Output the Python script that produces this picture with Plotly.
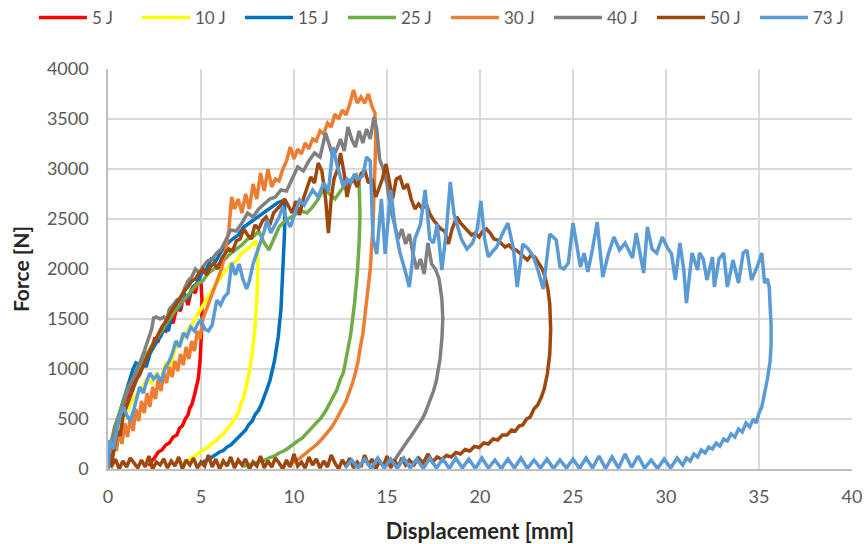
import plotly.graph_objects as go

# Force-displacement records of the impact tests, (displacement mm, force N)
curve_5J = [
    (0, 0), (0.1, 200), (0.3, 320), (0.5, 450), (0.7, 520), (0.9, 680), (1.1, 720), (1.3, 860),
    (1.5, 900), (1.7, 1020), (1.9, 1050), (2.1, 1160), (2.3, 1180), (2.5, 1300), (2.7, 1280),
    (2.9, 1400), (3.1, 1380), (3.3, 1500), (3.5, 1460), (3.7, 1620), (3.9, 1580), (4.1, 1760),
    (4.3, 1640), (4.5, 1800), (4.7, 1760), (4.85, 1920), (5.0, 1860), (5.05, 1700), (5.05, 1450),
    (5.0, 1250), (4.95, 1080), (4.85, 900), (4.75, 800), (4.65, 740), (4.5, 640), (4.4, 610),
    (4.3, 540), (4.15, 500), (4.0, 430), (3.85, 410), (3.7, 340), (3.5, 320), (3.3, 260),
    (3.1, 240), (2.9, 190), (2.7, 170), (2.5, 110), (2.35, 80), (2.2, 30),
]

curve_10J = [
    (0, 0), (0.15, 180), (0.35, 300), (0.6, 420), (0.85, 520), (1.1, 600), (1.35, 700), (1.6, 760),
    (1.85, 820), (2.1, 900), (2.35, 860), (2.6, 950), (2.85, 900), (3.1, 1050), (3.35, 1020),
    (3.6, 1200), (3.85, 1250), (4.1, 1320), (4.35, 1400), (4.6, 1480), (4.85, 1550), (5.1, 1640),
    (5.4, 1720), (5.7, 1820), (6.0, 1900), (6.3, 1980), (6.6, 2050), (6.9, 2080), (7.2, 2160),
    (7.5, 2200), (7.75, 2240), (7.95, 2280), (8.05, 2200), (8.05, 1950), (8.0, 1700), (7.9, 1420),
    (7.75, 1150), (7.55, 920), (7.3, 720), (7.15, 660), (7.0, 560), (6.8, 500), (6.6, 440),
    (6.4, 400), (6.2, 350), (6.0, 320), (5.8, 280), (5.6, 260), (5.4, 220), (5.2, 200), (5.0, 170),
    (4.8, 150), (4.6, 120), (4.4, 100), (4.25, 80), (4.05, 60), (3.9, 40),
]

curve_15J = [
    (0, 0), (0.15, 220), (0.35, 380), (0.55, 520), (0.75, 640), (0.95, 760), (1.15, 880),
    (1.35, 1000), (1.5, 1060), (1.7, 1040), (1.9, 1060), (2.05, 1020), (2.25, 1150), (2.45, 1220),
    (2.65, 1280), (2.85, 1330), (3.05, 1420), (3.25, 1380), (3.45, 1560), (3.65, 1640),
    (3.85, 1600), (4.05, 1760), (4.3, 1700), (4.55, 1820), (4.8, 1860), (5.05, 1960), (5.3, 2000),
    (5.55, 2100), (5.8, 2080), (6.1, 2180), (6.4, 2250), (6.7, 2300), (7.0, 2340), (7.3, 2420),
    (7.6, 2460), (7.9, 2500), (8.2, 2540), (8.5, 2580), (8.8, 2620), (9.1, 2660), (9.35, 2680),
    (9.5, 2650), (9.5, 2400), (9.45, 2150), (9.4, 1900), (9.3, 1600), (9.15, 1320), (8.95, 1080),
    (8.8, 960), (8.7, 880), (8.55, 800), (8.4, 720), (8.25, 650), (8.1, 590), (7.9, 540),
    (7.75, 480), (7.55, 440), (7.4, 390), (7.2, 350), (7.0, 310), (6.8, 280), (6.6, 240),
    (6.4, 220), (6.2, 185), (6.0, 170), (5.8, 140), (5.6, 120), (5.4, 95), (5.2, 80), (5.0, 50),
]

curve_25J = [
    (0, 0), (0.15, 250), (0.35, 420), (0.6, 560), (0.85, 700), (1.1, 820), (1.35, 900), (1.6, 1000),
    (1.85, 1080), (2.1, 1150), (2.4, 1250), (2.7, 1330), (3.0, 1420), (3.3, 1500), (3.6, 1580),
    (3.9, 1650), (4.2, 1720), (4.5, 1780), (4.8, 1850), (5.1, 1880), (5.4, 1960), (5.7, 2000),
    (6.0, 2060), (6.3, 2100), (6.6, 2160), (6.9, 2200), (7.2, 2240), (7.5, 2300), (7.8, 2320),
    (8.1, 2380), (8.4, 2260), (8.65, 2190), (8.9, 2300), (9.2, 2420), (9.5, 2480), (9.8, 2520),
    (10.1, 2550), (10.4, 2580), (10.7, 2560), (11.0, 2620), (11.3, 2700), (11.6, 2800),
    (11.9, 2750), (12.2, 2700), (12.5, 2780), (12.8, 2850), (13.1, 2900), (13.35, 2940),
    (13.5, 2850), (13.55, 2550), (13.5, 2250), (13.4, 1950), (13.25, 1650), (13.05, 1350),
    (12.9, 1200), (12.8, 1100), (12.65, 960), (12.5, 900), (12.3, 790), (12.1, 720), (11.9, 640),
    (11.7, 580), (11.45, 510), (11.2, 460), (10.95, 400), (10.7, 360), (10.45, 310), (10.2, 280),
    (9.95, 240), (9.7, 210), (9.45, 180), (9.2, 160), (8.95, 130), (8.7, 115), (8.45, 90),
    (8.2, 80), (7.95, 60), (7.7, 50), (7.45, 35), (7.2, 25),
]

curve_30J = [
    (0, 0), (0.15, 120), (0.3, 300), (0.45, 180), (0.6, 380), (0.75, 250), (0.9, 460), (1.05, 320),
    (1.2, 520), (1.35, 380), (1.5, 600), (1.65, 480), (1.8, 680), (1.95, 560), (2.1, 760),
    (2.25, 620), (2.4, 820), (2.55, 700), (2.7, 900), (2.85, 780), (3.0, 960), (3.15, 860),
    (3.3, 1020), (3.45, 920), (3.6, 1080), (3.75, 980), (3.9, 1150), (4.05, 1040), (4.2, 1220),
    (4.35, 1100), (4.5, 1280), (4.65, 1180), (4.8, 1380), (4.95, 1300), (5.1, 1500), (5.3, 1600),
    (5.5, 1700), (5.7, 1780), (5.9, 1900), (6.1, 2000), (6.3, 2150), (6.5, 2400), (6.65, 2720),
    (6.8, 2600), (7.0, 2700), (7.2, 2560), (7.4, 2750), (7.6, 2600), (7.8, 2850), (8.0, 2700),
    (8.2, 2960), (8.4, 2780), (8.6, 3000), (8.8, 2820), (9.0, 2900), (9.2, 2880), (9.4, 3000),
    (9.6, 3080), (9.8, 3220), (10.0, 3100), (10.2, 3200), (10.4, 3150), (10.6, 3260), (10.8, 3200),
    (11.0, 3300), (11.2, 3280), (11.4, 3380), (11.6, 3350), (11.8, 3460), (12.0, 3420),
    (12.2, 3550), (12.4, 3500), (12.6, 3590), (12.8, 3540), (13.0, 3650), (13.2, 3790),
    (13.4, 3660), (13.6, 3720), (13.8, 3660), (14.0, 3750), (14.2, 3620), (14.35, 3560),
    (14.4, 3300), (14.35, 2900), (14.25, 2450), (14.1, 2000), (13.9, 1650), (13.7, 1350),
    (13.55, 1200), (13.45, 1080), (13.3, 960), (13.15, 860), (12.95, 760), (12.8, 680),
    (12.6, 610), (12.4, 530), (12.2, 470), (12.0, 410), (11.75, 350), (11.5, 300), (11.25, 250),
    (11.0, 210), (10.75, 170), (10.5, 130), (10.25, 100), (10.0, 70), (9.8, 55), (9.6, 40),
]

curve_40J = [
    (0, 0), (0.15, 230), (0.35, 380), (0.55, 500), (0.75, 620), (0.95, 720), (1.15, 820), (1.35, 900),
    (1.55, 980), (1.75, 1080), (1.95, 1180), (2.15, 1280), (2.35, 1400), (2.45, 1510), (2.6, 1520),
    (2.8, 1500), (3.0, 1520), (3.15, 1490), (3.3, 1600), (3.5, 1640), (3.7, 1690), (3.9, 1660),
    (4.1, 1800), (4.3, 1880), (4.5, 1920), (4.7, 2000), (4.9, 1960), (5.1, 2020), (5.35, 2080),
    (5.6, 2100), (5.85, 2160), (6.1, 2200), (6.35, 2300), (6.6, 2390), (6.9, 2380), (7.2, 2460),
    (7.5, 2560), (7.8, 2520), (8.1, 2600), (8.4, 2650), (8.7, 2700), (9.0, 2720), (9.3, 2790),
    (9.6, 2780), (9.9, 2900), (10.2, 3020), (10.5, 2980), (10.8, 3080), (11.1, 3160), (11.4, 3120),
    (11.7, 3360), (11.9, 3250), (12.1, 3120), (12.3, 3200), (12.5, 3300), (12.7, 3180),
    (12.9, 3420), (13.1, 3300), (13.3, 3220), (13.5, 3380), (13.7, 3260), (13.9, 3400),
    (14.1, 3300), (14.3, 3520), (14.45, 3400), (14.6, 3100), (14.8, 3000), (15.0, 2850),
    (15.2, 2600), (15.4, 2450), (15.6, 2300), (15.8, 2400), (16.0, 2250), (16.2, 2350),
    (16.4, 2150), (16.6, 2000), (16.8, 2100), (17.0, 1950), (17.2, 2260), (17.4, 2050),
    (17.6, 2000), (17.8, 1900), (17.95, 1700), (18.0, 1500), (17.95, 1300), (17.85, 1100),
    (17.75, 980), (17.65, 880), (17.5, 780), (17.35, 700), (17.2, 620), (17.05, 560), (16.9, 500),
    (16.7, 440), (16.5, 390), (16.3, 330), (16.1, 280), (15.9, 220), (15.75, 180), (15.6, 140),
    (15.45, 100), (15.3, 70), (15.15, 40),
]

curve_50J = [
    (0, 0), (0.1, 150), (0.2, 60), (0.35, 250), (0.5, 380), (0.65, 330), (0.8, 520), (0.95, 600),
    (1.1, 680), (1.25, 760), (1.4, 820), (1.55, 900), (1.7, 940), (1.85, 1020), (2.0, 1080),
    (2.15, 1140), (2.3, 1200), (2.45, 1240), (2.6, 1320), (2.75, 1360), (2.9, 1420), (3.05, 1460),
    (3.2, 1500), (3.35, 1560), (3.5, 1600), (3.7, 1660), (3.9, 1720), (4.1, 1780), (4.3, 1820),
    (4.5, 1880), (4.7, 1900), (4.9, 1960), (5.1, 2000), (5.3, 1940), (5.5, 2020), (5.7, 2060),
    (5.9, 2000), (6.1, 2100), (6.3, 2160), (6.5, 2200), (6.7, 2180), (6.9, 2280), (7.1, 2300),
    (7.3, 2400), (7.5, 2340), (7.7, 2300), (7.9, 2440), (8.1, 2400), (8.3, 2480), (8.5, 2520),
    (8.7, 2440), (8.9, 2560), (9.1, 2600), (9.3, 2640), (9.5, 2700), (9.7, 2620), (9.9, 2560),
    (10.1, 2680), (10.3, 2540), (10.5, 2700), (10.7, 2820), (10.9, 2920), (11.1, 2860),
    (11.3, 3060), (11.5, 2980), (11.7, 2700), (11.85, 2360), (12.0, 2700), (12.15, 2900),
    (12.35, 3000), (12.5, 3160), (12.7, 2950), (12.85, 2720), (13.0, 2850), (13.2, 2900),
    (13.4, 2820), (13.6, 2950), (13.8, 2990), (14.0, 2860), (14.2, 2900), (14.4, 2720),
    (14.55, 2800), (14.75, 2900), (14.95, 3050), (15.15, 2850), (15.3, 2700), (15.5, 2900),
    (15.7, 2920), (15.9, 2800), (16.1, 2850), (16.3, 2700), (16.5, 2600), (16.7, 2650),
    (16.9, 2600), (17.1, 2660), (17.3, 2550), (17.5, 2490), (17.7, 2450), (17.9, 2400),
    (18.1, 2380), (18.3, 2250), (18.5, 2400), (18.75, 2520), (18.95, 2460), (19.15, 2420),
    (19.35, 2390), (19.55, 2340), (19.75, 2360), (19.95, 2320), (20.15, 2380), (20.35, 2400),
    (20.55, 2360), (20.75, 2300), (20.95, 2290), (21.15, 2260), (21.35, 2220), (21.55, 2240),
    (21.75, 2200), (21.95, 2190), (22.15, 2160), (22.35, 2120), (22.55, 2090), (22.75, 2140),
    (22.95, 2120), (23.15, 2060), (23.35, 2000), (23.5, 1920), (23.65, 1800), (23.75, 1650),
    (23.8, 1400), (23.75, 1150), (23.62, 950), (23.45, 800), (23.3, 720), (23.1, 640), (22.9, 600),
    (22.7, 520), (22.5, 500), (22.3, 440), (22.1, 430), (21.9, 380), (21.7, 390), (21.45, 340),
    (21.2, 340), (20.95, 290), (20.7, 300), (20.45, 250), (20.2, 260), (19.95, 215), (19.7, 225),
    (19.45, 180), (19.2, 195), (18.95, 150), (18.7, 165), (18.45, 120), (18.2, 135), (17.95, 95),
    (17.7, 120), (17.45, 70), (17.2, 150), (16.95, 60), (16.7, 110), (16.45, 40), (16.2, 90),
    (16.0, 40), (15.8, 110), (15.6, 20), (15.4, 90), (15.2, 10), (15.0, 130), (14.8, 30),
    (14.6, 80), (14.4, 0), (14.2, 100), (14.0, 40), (13.8, 140), (13.6, 20), (13.4, 70), (13.2, 10),
    (13.0, 110), (12.8, 30), (12.6, 90), (12.4, 0), (12.2, 60), (12.0, 140), (11.8, 20), (11.6, 80),
    (11.4, 10), (11.2, 100), (11.0, 40), (10.8, 120), (10.6, 10), (10.4, 70), (10.2, 30),
    (10.0, 150), (9.8, 20), (9.6, 90), (9.4, 0), (9.2, 60), (9.0, 110), (8.8, 20), (8.6, 80),
    (8.4, 10), (8.2, 130), (8.0, 30), (7.8, 70), (7.6, 0), (7.4, 100), (7.2, 40), (7.0, 90),
    (6.8, 10), (6.6, 120), (6.4, 30), (6.2, 80), (6.0, 0), (5.8, 100), (5.6, 20), (5.4, 140),
    (5.2, 30), (5.0, 70), (4.8, 10), (4.6, 110), (4.4, 40), (4.2, 90), (4.0, 0), (3.8, 120),
    (3.6, 30), (3.4, 80), (3.2, 10), (3.0, 100), (2.8, 40), (2.6, 70), (2.4, 0), (2.2, 130),
    (2.0, 20), (1.8, 90), (1.6, 10), (1.4, 60), (1.2, 110), (1.0, 20), (0.8, 80), (0.6, 0),
    (0.4, 100), (0.2, 30), (0.05, 60),
]

curve_73J = [
    (0, 0), (0.1, 290), (0.3, 200), (0.5, 420), (0.7, 560), (0.85, 620), (1.0, 540), (1.2, 480),
    (1.4, 600), (1.55, 700), (1.7, 820), (1.9, 760), (2.05, 860), (2.25, 960), (2.45, 900),
    (2.65, 940), (2.85, 870), (3.05, 1000), (3.3, 1080), (3.5, 1180), (3.65, 1280), (3.85, 1220),
    (4.05, 1360), (4.25, 1320), (4.45, 1420), (4.65, 1380), (4.85, 1460), (5.0, 1490), (5.2, 1400),
    (5.4, 1380), (5.6, 1440), (5.85, 1690), (6.05, 1640), (6.25, 1720), (6.45, 1760), (6.65, 2060),
    (6.85, 1940), (7.05, 2050), (7.25, 1900), (7.45, 1800), (7.6, 1880), (7.8, 2050), (8.0, 2160),
    (8.2, 2250), (8.4, 2380), (8.55, 2490), (8.75, 2360), (9.0, 2450), (9.2, 2520), (9.4, 2620),
    (9.6, 2490), (9.8, 2420), (10.05, 2560), (10.3, 2690), (10.55, 2640), (10.8, 2720),
    (11.0, 2790), (11.3, 2720), (11.6, 2860), (11.85, 2780), (12.1, 3220), (12.3, 3050),
    (12.5, 2900), (12.65, 2820), (12.85, 2900), (13.05, 2860), (13.25, 2950), (13.45, 2900),
    (13.7, 2930), (13.9, 3120), (14.1, 3080), (14.25, 2300), (14.45, 2150), (14.7, 2700),
    (14.9, 2150), (15.2, 2790), (15.45, 2400), (15.7, 2160), (15.95, 2000), (16.2, 1820),
    (16.5, 2300), (16.8, 2450), (17.05, 2790), (17.3, 2300), (17.5, 2260), (17.7, 2450),
    (17.95, 1990), (18.2, 2400), (18.4, 2870), (18.6, 2550), (18.8, 2420), (19.0, 2300),
    (19.3, 2200), (19.6, 2260), (19.85, 2400), (20.05, 2680), (20.25, 2300), (20.45, 2120),
    (20.7, 2180), (20.9, 2220), (21.2, 2350), (21.5, 2460), (21.8, 2200), (22.0, 1820),
    (22.3, 2250), (22.6, 2200), (22.85, 2130), (23.1, 2000), (23.4, 1800), (23.6, 2100),
    (23.75, 2350), (24.1, 2290), (24.3, 2020), (24.5, 2000), (24.75, 2060), (25.0, 2460),
    (25.2, 2250), (25.4, 2020), (25.6, 2160), (25.8, 1970), (26.05, 2200), (26.3, 2470),
    (26.6, 1920), (26.9, 2150), (27.2, 2320), (27.5, 2190), (27.8, 2260), (28.2, 2110),
    (28.4, 2360), (28.8, 1960), (29.0, 2420), (29.25, 2200), (29.5, 2160), (29.8, 2320),
    (30.05, 2220), (30.3, 2150), (30.5, 1890), (30.75, 2260), (30.95, 2000), (31.1, 1660),
    (31.4, 2160), (31.7, 1990), (31.8, 2160), (32.0, 2100), (32.2, 1890), (32.5, 2120),
    (32.6, 1820), (32.85, 2100), (33.1, 2160), (33.3, 1820), (33.6, 2090), (33.9, 1860),
    (34.15, 2160), (34.35, 2190), (34.6, 1890), (34.9, 2020), (35.15, 2160), (35.3, 1860),
    (35.45, 1900), (35.55, 1820), (35.6, 1620), (35.65, 1450), (35.65, 1250), (35.6, 1080),
    (35.45, 900), (35.3, 760), (35.15, 620), (35.0, 560), (34.85, 460), (34.7, 500), (34.5, 420),
    (34.3, 460), (34.1, 370), (33.9, 400), (33.7, 320), (33.5, 350), (33.3, 280), (33.1, 300),
    (32.9, 230), (32.7, 260), (32.5, 200), (32.3, 220), (32.1, 160), (31.9, 190), (31.7, 120),
    (31.5, 150), (31.3, 80), (31.1, 110), (30.9, 40), (30.6, 110), (30.25, 10), (29.9, 100),
    (29.55, 5), (29.2, 90), (28.85, 10), (28.5, 130), (28.15, 15), (27.8, 150), (27.45, 10),
    (27.1, 120), (26.75, 5), (26.4, 130), (26.05, 10), (25.7, 110), (25.35, 5), (25.0, 100),
    (24.65, 10), (24.3, 90), (23.95, 5), (23.6, 100), (23.25, 10), (22.9, 90), (22.55, 5),
    (22.2, 110), (21.85, 10), (21.5, 100), (21.15, 5), (20.8, 90), (20.45, 10), (20.1, 110),
    (19.75, 5), (19.4, 100), (19.05, 10), (18.7, 110), (18.35, 5), (18.0, 100), (17.65, 10),
    (17.3, 110), (16.95, 5), (16.6, 100), (16.25, 10), (15.9, 110), (15.55, 5), (15.2, 100),
    (14.85, 10), (14.5, 110), (14.15, 5), (13.8, 100), (13.45, 10), (13.1, 90), (12.75, 10),
]

series_names = ["5 J", "10 J", "15 J", "25 J", "30 J", "40 J", "50 J", "73 J"]
series_curves = [curve_5J, curve_10J, curve_15J, curve_25J, curve_30J, curve_40J, curve_50J, curve_73J]
series_colors = ["#FF0000", "#FFFF00", "#0070C0", "#70AD47", "#ED7D31", "#808080", "#9E480E", "#5B9BD5"]

x_ticks = [0, 5, 10, 15, 20, 25, 30, 35, 40]
y_ticks = [0, 500, 1000, 1500, 2000, 2500, 3000, 3500, 4000]

FONT = "Lato, 'Open Sans', sans-serif"

fig = go.Figure()
for name, curve, color in zip(series_names, series_curves, series_colors):
    xs = [p[0] for p in curve]
    ys = [p[1] for p in curve]
    fig.add_trace(go.Scatter(
        x=xs, y=ys, mode="lines", name=name,
        line=dict(color=color, width=3.5),
    ))

fig.update_layout(
    width=866, height=544,
    margin=dict(l=108, r=14, t=69, b=75, autoexpand=False),
    paper_bgcolor="white", plot_bgcolor="white",
    font=dict(family=FONT, size=18, color="#595959"),
    showlegend=True,
    legend=dict(
        orientation="h", xref="paper", yref="paper",
        x=-0.0995, xanchor="left", y=1.1275, yanchor="middle",
        font=dict(family=FONT, size=17, color="#595959"),
        itemwidth=48, entrywidth=40, entrywidthmode="pixels",
        tracegroupgap=0, bgcolor="rgba(0,0,0,0)",
    ),
    xaxis=dict(
        range=[0, 40], tickvals=x_ticks, ticktext=[str(v) for v in x_ticks],
        showgrid=True, gridcolor="#D9D9D9", gridwidth=1.5,
        showline=True, linecolor="#BFBFBF", linewidth=1.5,
        zeroline=False, ticks="", ticklabelstandoff=11, automargin=False,
        title=dict(text="<b>Displacement [mm]</b>", font=dict(family=FONT, size=22, color="#262626"), standoff=20),
    ),
    yaxis=dict(
        range=[0, 4000], tickvals=y_ticks, ticktext=[str(v) for v in y_ticks],
        showgrid=True, gridcolor="#D9D9D9", gridwidth=1.5,
        showline=True, linecolor="#BFBFBF", linewidth=1.5,
        zeroline=False, ticks="", ticklabelstandoff=14, automargin=False,
        title=dict(text="<b>Force [N]</b>", font=dict(family=FONT, size=21, color="#262626"), standoff=12),
    ),
)

fig.write_html("out.html")
